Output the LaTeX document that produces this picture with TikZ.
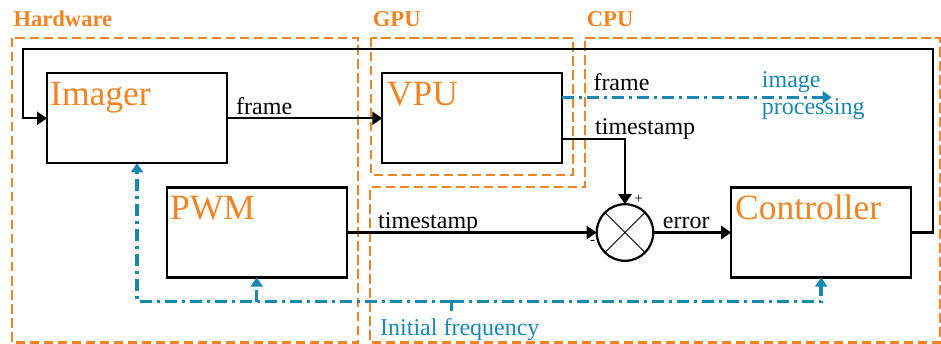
\documentclass[tikz,border=0pt]{standalone}
\usepackage{fontspec}
\setmainfont{Liberation Serif}
\usetikzlibrary{arrows.meta}
\definecolor{org}{RGB}{240,132,36}
\definecolor{blu}{RGB}{25,135,175}
\begin{document}
\begin{tikzpicture}[x=1pt,y=-1pt,
  blk/.style={draw=black, line width=2.2pt, minimum width=180pt, minimum height=90pt, inner sep=0pt, outer sep=0pt},
  big/.style={font=\fontsize{35.5}{36}\selectfont, text=org, anchor=base west, inner sep=0pt},
  lbl/.style={font=\fontsize{24}{24}\selectfont, anchor=base west, inner sep=0pt},
  blbl/.style={lbl, text=blu},
  grp/.style={font=\bfseries\fontsize{22.6}{23}\selectfont, text=org, anchor=base west, inner sep=0pt},
  region/.style={draw=org, line width=2.2pt, dash pattern=on 9.5pt off 4.5pt},
  conn/.style={line width=2.2pt, -{Triangle[length=10pt,width=13pt]}},
  wire/.style={line width=2.2pt},
  bconn/.style={draw=blu, line width=3.5pt, dash pattern=on 12pt off 5pt on 3pt off 5pt, -{Triangle[length=9pt,width=12pt]}},
  bwire/.style={draw=blu, line width=3.5pt, dash pattern=on 12pt off 5pt on 3pt off 5pt},
  sgn/.style={font=\fontsize{15}{15}\selectfont, inner sep=0pt}
]
\fill[white] (0,0) rectangle (941,344);
\useasboundingbox (0,0) rectangle (941,344);

% regions
\draw[region] (12,38) rectangle (358,342.5);
\draw[region] (370.7,38) rectangle (572.7,175);
\draw[region] (585,38) -- (939.8,38) -- (939.8,342.5) -- (370,342.5) -- (370,187.3) -- (585,187.3) -- cycle;
\node[grp] (hwlbl) at (13.3,26.7) {Hardware};
\node[grp] (gpulbl) at (372.7,26.7) {GPU};
\node[grp] (cpulbl) at (586.7,26.7) {CPU};

% blocks
\node[blk] (imager) at (137,118.3) {};
\node[blk] (vpu) at (472.3,118.3) {};
\node[blk] (pwm) at (256.7,232.5) {};
\node[blk] (ctrl) at (821.2,232.5) {};
\node[big] (imagerlbl) at (50,106) {Imager};
\node[big] (vpulbl) at (386.7,106) {VPU};
\node[big] (pwmlbl) at (170,220) {PWM};
\node[big] (ctrllbl) at (735,220) {Controller};

% summing junction
\node[circle, draw, line width=2.2pt, minimum size=56.6pt, inner sep=0pt, outer sep=0pt] (sum) at (625,232.5) {};
\draw[line width=0.8pt] (sum.north west) -- (sum.south east);
\draw[line width=0.8pt] (sum.north east) -- (sum.south west);
\node[sgn] (plus) at (638.5,199.5) {+};
\node[sgn] (minus) at (592.7,242.7) {-};

% connectors
\draw[conn] (imager.east) -- (vpu.west);
\node[lbl] (frame1) at (236,115) {frame};
\draw[conn] ([yshift=-21pt]vpu.east) -| (sum.north);
\node[lbl] (ts1) at (595,135) {timestamp};
\draw[conn] (pwm.east) -- (sum.west);
\node[lbl] (ts2) at (378,228.3) {timestamp};
\draw[conn] (sum.east) -- (ctrl.west);
\node[lbl] (err) at (662.7,228.3) {error};

\coordinate (fbR) at (933.3,49.3);
\coordinate (fbL) at (22.7,49.3);
\draw[conn] (ctrl.east) -| (fbR) -- (fbL) |- (imager.west);

% image processing
\coordinate (imgproc) at (831.7,97.3);
\draw[bconn] ([yshift=21pt]vpu.east) -- (imgproc);
\node[lbl] (frame2) at (593.3,90.7) {frame};
\node[blbl] (imglbl) at (761.7,87.3) {image};
\node[blbl] (proclbl) at (761.7,115) {processing};

% initial frequency bus
\coordinate (bus) at (451.7,301.7);
\coordinate (freqin) at (451.7,311);
\draw[bconn] (bus) -| (imager.south);
\draw[bconn] (bus) -| (ctrl.south);
\draw[bconn] (pwm.south |- bus) -- (pwm.south);
\draw[bwire] (freqin) -- (bus);
\node[blbl] (freqlbl) at (380,335) {Initial frequency};
\end{tikzpicture}
\end{document}
